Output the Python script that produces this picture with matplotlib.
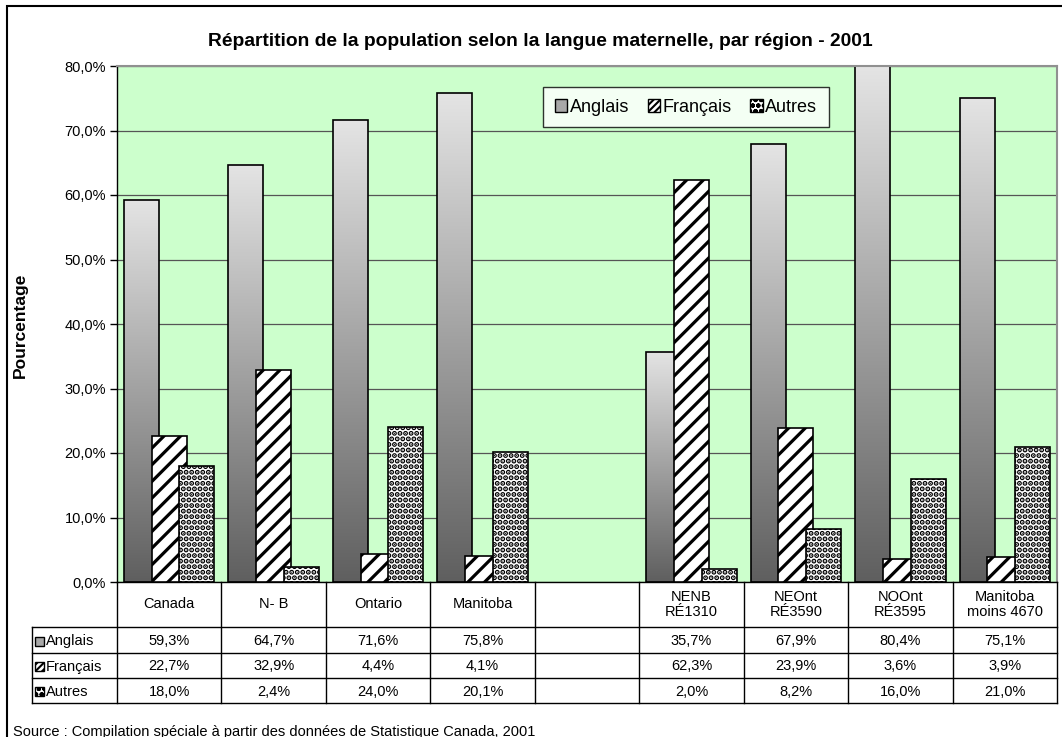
import numpy as np
import matplotlib
matplotlib.use("Agg")
import matplotlib.pyplot as plt
from matplotlib.colors import LinearSegmentedColormap
from matplotlib.patches import Rectangle, Patch

plt.rcParams["font.family"] = ["Liberation Sans", "DejaVu Sans"]

categories = ["Canada", "N- B", "Ontario", "Manitoba", "",
              "NENB\nRÉ1310", "NEOnt\nRÉ3590", "NOOnt\nRÉ3595", "Manitoba\nmoins 4670"]
anglais = [59.3, 64.7, 71.6, 75.8, None, 35.7, 67.9, 80.4, 75.1]
francais = [22.7, 32.9, 4.4, 4.1, None, 62.3, 23.9, 3.6, 3.9]
autres = [18.0, 2.4, 24.0, 20.1, None, 2.0, 8.2, 16.0, 21.0]
series_names = ["Anglais", "Français", "Autres"]
yticks = [0, 10, 20, 30, 40, 50, 60, 70, 80]

W, H = 1062, 737


def fmt(v):
    return f"{v:.1f}%".replace(".", ",")


def main():
    fig = plt.figure(figsize=(W / 100, H / 100), dpi=100)

    # outer frame (right and bottom edges fall outside the picture)
    fig.patches.append(Rectangle((7 / W, -0.05), 1.1, 1 - 6 / H + 0.05,
                                 transform=fig.transFigure, fill=False,
                                 edgecolor="black", linewidth=1.5, zorder=0))

    ax = fig.add_axes([117 / W, 1 - 582 / H, 940 / W, (582 - 66) / H])
    ax.set_facecolor("#ccffcc")
    ax.set_xlim(-0.5, len(categories) - 0.5)
    ax.set_ylim(0, 80)
    ax.set_yticks(yticks)
    ax.set_yticklabels([fmt(v) for v in yticks], fontsize=10.5)
    ax.set_xticks([])
    ax.yaxis.grid(True, color="#555555", linewidth=0.9)
    ax.set_axisbelow(True)
    for s in ["top", "right"]:
        ax.spines[s].set_color("#909090")
        ax.spines[s].set_linewidth(1.5)
    ax.spines["left"].set_linewidth(1.0)
    ax.spines["bottom"].set_linewidth(1.0)
    ax.tick_params(axis="y", length=5, width=1, pad=3)

    width = 0.335
    offsets = [-0.265, 0.0, 0.265]
    grad = LinearSegmentedColormap.from_list("g", ["#5f5f5f", "#e4e4e4"])
    gimg = np.linspace(0, 1, 256).reshape(-1, 1)

    # Anglais - gradient bars
    for i, v in enumerate(anglais):
        if v is None:
            continue
        x0 = i + offsets[0] - width / 2
        top = min(v, 80)
        ax.imshow(gimg, cmap=grad, origin="lower", aspect="auto",
                  extent=[x0, x0 + width, 0, top], zorder=2, interpolation="bilinear")
        ax.add_patch(Rectangle((x0, 0), width, v, fill=False, edgecolor="black",
                               linewidth=1.2, zorder=2.1, clip_on=True))

    xs = [i for i, v in enumerate(francais) if v is not None]
    with plt.rc_context({"hatch.linewidth": 2.3}):
        ax.bar([i + offsets[1] for i in xs], [francais[i] for i in xs], width,
               color="white", edgecolor="black", hatch="//", linewidth=1.2, zorder=3)
    with plt.rc_context({"hatch.linewidth": 2.6}):
        ax.bar([i + offsets[2] for i in xs], [autres[i] for i in xs], width,
               color="white", edgecolor="black", hatch="...", linewidth=1.2, zorder=4)
    ax.set_xlim(-0.5, len(categories) - 0.5)
    ax.set_ylim(0, 80)

    # legend
    with plt.rc_context({"hatch.linewidth": 1.5}):
        handles = [Patch(facecolor="#a8a8a8", edgecolor="black", linewidth=1),
                   Patch(facecolor="white", edgecolor="black", hatch="/////", linewidth=1),
                   Patch(facecolor="white", edgecolor="black", hatch="ooo", linewidth=1)]
        leg = ax.legend(handles, series_names, ncol=3, fontsize=13,
                        loc="upper left", bbox_to_anchor=((543 - 117) / 940, 1 - (87 - 66) / 516),
                        frameon=True, fancybox=False, handlelength=0.7, handleheight=0.7,
                        handletextpad=0.15, columnspacing=1.0, borderpad=0.65,
                        borderaxespad=0)
    leg.get_frame().set_edgecolor("black")
    leg.get_frame().set_linewidth(1.0)

    fig.text(540 / W, 1 - 41 / H, "Répartition de la population selon la langue maternelle, par région - 2001",
             ha="center", va="center", fontsize=13.9, fontweight="bold")
    fig.text(20 / W, 1 - 325 / H, "Pourcentage", rotation=90, ha="center", va="center",
             fontsize=12.5, fontweight="bold")

    # data table
    tx = fig.add_axes([32 / W, 1 - 703 / H, (1057 - 32) / W, (703 - 582) / H])
    left = -0.5 - 85 / 104.44
    right = len(categories) - 0.5
    tx.set_xlim(left, right)
    tx.set_ylim(703, 582)
    tx.axis("off")
    rows = [627, 653, 678, 703]
    for y in rows:
        tx.plot([left, right], [y, y], color="black", linewidth=1, clip_on=False)
    tx.plot([left, left], [627, 703], color="black", linewidth=1, clip_on=False)
    for k in range(len(categories) + 1):
        tx.plot([k - 0.5, k - 0.5], [582, 703], color="black", linewidth=1, clip_on=False)

    for i, c in enumerate(categories):
        tx.text(i, 604.5, c, ha="center", va="center", fontsize=10.5, linespacing=1.05)

    series = [anglais, francais, autres]
    hatch_styles = [(None, "#a8a8a8"), ("/////", "white"), ("ooo", "white")]
    for r, (name, vals) in enumerate(zip(series_names, series)):
        yc = (rows[r] + rows[r + 1]) / 2
        h, fc = hatch_styles[r]
        with plt.rc_context({"hatch.linewidth": 1.5}):
            tx.add_patch(Rectangle((left + 0.03, yc - 4.5 + 1), 0.085, 9, facecolor=fc,
                                   edgecolor="black", hatch=h, linewidth=1, clip_on=False))
        tx.text(left + 0.135, yc + 1, name, ha="left", va="center", fontsize=10.5)
        for i, v in enumerate(vals):
            if v is None:
                continue
            tx.text(i, yc + 1, fmt(v), ha="center", va="center", fontsize=10.5)

    fig.text(13 / W, 1 - 732 / H, "Source : Compilation spéciale à partir des données de Statistique Canada, 2001",
             ha="left", va="center", fontsize=10.5)

    fig.savefig("out.png", dpi=100)


if __name__ == "__main__":
    main()
